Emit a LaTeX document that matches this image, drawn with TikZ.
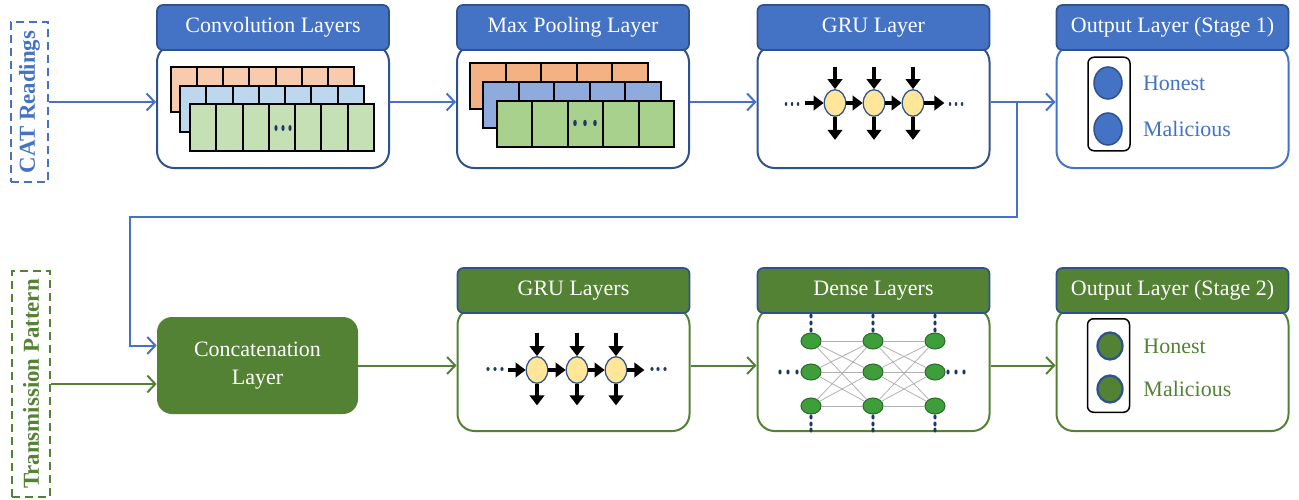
\documentclass[tikz,border=0pt]{standalone}
\usepackage{fontspec}
\setmainfont{Liberation Serif}
\usepackage{xcolor}
\usepackage{graphicx}
\usepackage{tikz}
\usetikzlibrary{shapes.geometric, arrows.meta, positioning}
\definecolor{blueMain}{RGB}{68, 114, 196}
\definecolor{blueDark}{RGB}{47, 82, 143}
\definecolor{greenMain}{RGB}{84, 130, 53}
\definecolor{greenNode}{RGB}{62, 158, 58}
\definecolor{greenEdge}{RGB}{45, 105, 45}
\definecolor{navyDot}{RGB}{31, 56, 100}
\definecolor{cellYellow}{RGB}{255, 230, 153}
\definecolor{orangeLight}{RGB}{248, 203, 173}
\definecolor{blueLight}{RGB}{189, 215, 238}
\definecolor{greenLight}{RGB}{197, 224, 180}
\definecolor{orangeMid}{RGB}{244, 177, 131}
\definecolor{blueMid}{RGB}{143, 170, 220}
\definecolor{greenMid}{RGB}{169, 209, 142}
\definecolor{wireGrey}{RGB}{175, 175, 175}

\begin{document}
\begin{tikzpicture}[x=0.2mm, y=-0.2mm,
  every node/.style={font=\fontsize{12.5}{15.5}\selectfont},
  hdr/.style={rectangle, rounded corners=1.2mm, draw=blueDark,
    line width=0.35mm, text=white, minimum width=46.4mm,
    minimum height=9mm, inner sep=0pt},
  bdy/.style={rectangle, rounded corners=3.4mm, fill=white,
    line width=0.4mm, minimum width=46.4mm, minimum height=24.6mm,
    inner sep=0pt},
  side/.style={rectangle, dash pattern=on 1.6mm off 1mm,
    line width=0.4mm, inner sep=0pt,
    font=\fontsize{13}{15}\selectfont\bfseries},
  concatbox/.style={rectangle, rounded corners=3mm, fill=greenMain,
    text=white, minimum width=40.2mm, minimum height=19.4mm,
    align=center, inner sep=0pt},
  fmap/.style={draw=black, line width=0.4mm},
  gcell/.style={ellipse, draw=blueDark, fill=cellYellow,
    line width=0.25mm, minimum width=4.3mm, minimum height=5.3mm,
    inner sep=0pt},
  dnode/.style={ellipse, draw=greenEdge, fill=greenNode,
    line width=0.2mm, minimum width=4mm, minimum height=3.2mm,
    inner sep=0pt},
  obox/.style={rectangle, rounded corners=1.2mm, draw=black,
    line width=0.3mm, minimum width=8.4mm, minimum height=18.7mm},
  ocircB/.style={ellipse, draw=blueDark, fill=blueMain,
    line width=0.3mm, minimum width=5.6mm, minimum height=6.4mm,
    inner sep=0pt},
  ocircG/.style={ellipse, draw=blueDark, fill=greenMain,
    line width=0.45mm, minimum width=5mm, minimum height=5.4mm,
    inner sep=0pt},
  wire/.style={draw=wireGrey, line width=0.15mm},
  cellArr/.style={-{Triangle[length=2mm, width=2.9mm]},
    line width=0.75mm, black},
  arrB/.style={-{Straight Barb[length=1.6mm, width=3.4mm]},
    draw=blueMain, line width=0.4mm},
  arrG/.style={-{Straight Barb[length=1.6mm, width=3.4mm]},
    draw=greenMain, line width=0.4mm},
]
\useasboundingbox (0,0) rectangle (1299,500);

% input labels
\node[side, draw=blueMain, text=blueMain, minimum width=7.4mm,
  minimum height=32mm] (cat) at (29.5,102)
  {\rotatebox{90}{CAT Readings}};
\node[side, draw=greenMain, text=greenMain, minimum width=7.6mm,
  minimum height=45.2mm] (trans) at (31,384)
  {\rotatebox{90}{Transmission Pattern}};

% stage 1 blocks
\node[bdy, draw=blueDark] (conv) at (273,106.5) {};
\node[hdr, fill=blueMain] (convH) at (273,27.5) {Convolution Layers};
\node[bdy, draw=blueDark] (pool) at (573,106.5) {};
\node[hdr, fill=blueMain] (poolH) at (573,27.5) {Max Pooling Layer};
\node[bdy, draw=blueDark] (gru) at (873.5,106.5) {};
\node[hdr, fill=blueMain] (gruH) at (873.5,27.5) {GRU Layer};
\node[bdy, draw=blueMain] (out1) at (1172.5,106.5) {};
\node[hdr, fill=blueMain] (out1H) at (1172.5,27.5)
  {Output Layer (Stage 1)};

% stage 2 blocks
\node[concatbox] (concat) at (257.5,365.5) {Concatenation\\Layer};
\node[bdy, draw=greenMain] (gru2) at (573.5,369.5) {};
\node[hdr, fill=greenMain] (gru2H) at (573.5,290.5) {GRU Layers};
\node[bdy, draw=greenMain] (dense) at (873.5,369.5) {};
\node[hdr, fill=greenMain] (denseH) at (873.5,290.5) {Dense Layers};
\node[bdy, draw=greenMain] (out2) at (1172.5,369.5) {};
\node[hdr, fill=greenMain] (out2H) at (1172.5,290.5)
  {Output Layer (Stage 2)};

% feature maps, convolution
\foreach \i in {0,...,6}
  \draw[fmap, fill=orangeLight] ({171+\i*26.14},67) rectangle ++(26.14,45);
\foreach \i in {0,...,6}
  \draw[fmap, fill=blueLight] ({180+\i*26.29},86) rectangle ++(26.29,46);
\foreach \i in {0,...,6}
  \draw[fmap, fill=greenLight] ({190+\i*26.29},104) rectangle ++(26.29,47);
\foreach \x in {276,283,290}
  \fill[navyDot] (\x,128) ellipse [x radius=0.32mm, y radius=0.6mm];

% feature maps, pooling
\foreach \i in {0,...,4}
  \draw[fmap, fill=orangeMid] ({470+\i*35.6},63) rectangle ++(35.6,46);
\foreach \i in {0,...,4}
  \draw[fmap, fill=blueMid] ({483+\i*35.6},82) rectangle ++(35.6,46);
\foreach \i in {0,...,4}
  \draw[fmap, fill=greenMid] ({497+\i*35.4},101) rectangle ++(35.4,46);
\foreach \x in {575,585,595}
  \fill[navyDot] (\x,123) ellipse [x radius=0.36mm, y radius=0.65mm];

% recurrent cells, stage 1
\node[gcell] (g1) at (835,103) {};
\node[gcell] (g2) at (874,103) {};
\node[gcell] (g3) at (913,103) {};
\foreach \g in {g1,g2,g3} {
  \draw[cellArr] ([yshift=4.4mm]\g.north) -- (\g);
  \draw[cellArr] (\g) -- ([yshift=-4.6mm]\g.south);
}
\draw[cellArr] ([xshift=-3.7mm]g1.west) -- (g1);
\draw[cellArr] (g1) -- (g2);
\draw[cellArr] (g2) -- (g3);
\draw[cellArr] (g3) -- ([xshift=4mm]g3.east);
\foreach \x in {786,792,798,950,956,962}
  \fill[navyDot] (\x,104) ellipse [x radius=0.25mm, y radius=0.4mm];

% recurrent cells, stage 2
\node[gcell] (h1) at (537,370) {};
\node[gcell] (h2) at (577,370) {};
\node[gcell] (h3) at (616,370) {};
\foreach \g in {h1,h2,h3} {
  \draw[cellArr] ([yshift=4.7mm]\g.north) -- (\g);
  \draw[cellArr] (\g) -- ([yshift=-4.3mm]\g.south);
}
\draw[cellArr] ([xshift=-3.6mm]h1.west) -- (h1);
\draw[cellArr] (h1) -- (h2);
\draw[cellArr] (h2) -- (h3);
\draw[cellArr] (h3) -- ([xshift=3.4mm]h3.east);
\foreach \x in {488,495,502,652,658,665}
  \fill[navyDot] (\x,369) ellipse [x radius=0.32mm, y radius=0.4mm];

% dense net
\foreach \c/\x in {1/811,2/873,3/935}
  \foreach \r/\y in {1/341,2/372,3/406}
    \node[dnode] (d\c\r) at (\x,\y) {};
\foreach \a in {1,2,3}
  \foreach \b in {1,2,3} {
    \draw[wire] (d1\a) -- (d2\b);
    \draw[wire] (d2\a) -- (d3\b);
  }
\foreach \x in {811,873,935}
  \foreach \y in {316,323,330,417,424,430}
    \fill[navyDot] (\x,\y) ellipse [x radius=0.32mm, y radius=0.5mm];
\foreach \x in {780,788,797,948,956,964}
  \fill[navyDot] (\x,372) ellipse [x radius=0.32mm, y radius=0.5mm];

% output units
\node[obox] (o1box) at (1109,104) {};
\node[ocircB] (o11) at (1108,83) {};
\node[ocircB] (o12) at (1108,129) {};
\node[text=blueMain, inner sep=0pt, right=4mm of o11] (hon1) {Honest};
\node[text=blueMain, inner sep=0pt, right=4mm of o12] (mal1) {Malicious};
\node[obox] (o2box) at (1108.5,365.5) {};
\node[ocircG] (o21) at (1110,346) {};
\node[ocircG] (o22) at (1110,389) {};
\node[text=greenMain, inner sep=0pt, right=3.9mm of o21] (hon2) {Honest};
\node[text=greenMain, inner sep=0pt, right=3.9mm of o22] (mal2) {Malicious};

% connectors
\coordinate (split) at (1017,102);
\coordinate (turn) at (130,217);
\draw[arrB] (cat.east) -- (cat.east -| conv.west);
\draw[arrB] (conv.east |- cat.east) -- (pool.west |- cat.east);
\draw[arrB] (pool.east |- cat.east) -- (gru.west |- cat.east);
\draw[arrB] (gru.east |- cat.east) -- (out1.west |- cat.east);
\draw[arrB] (split) |- (turn) |- ([yshift=4mm]concat.west);
\draw[arrG] (trans.east) -- (trans.east -| concat.west);
\draw[arrG] (concat.east) -- (concat.east -| gru2.west);
\draw[arrG] (gru2.east |- concat.east) -- (dense.west |- concat.east);
\draw[arrG] (dense.east |- concat.east) -- (out2.west |- concat.east);
\end{tikzpicture}
\end{document}
